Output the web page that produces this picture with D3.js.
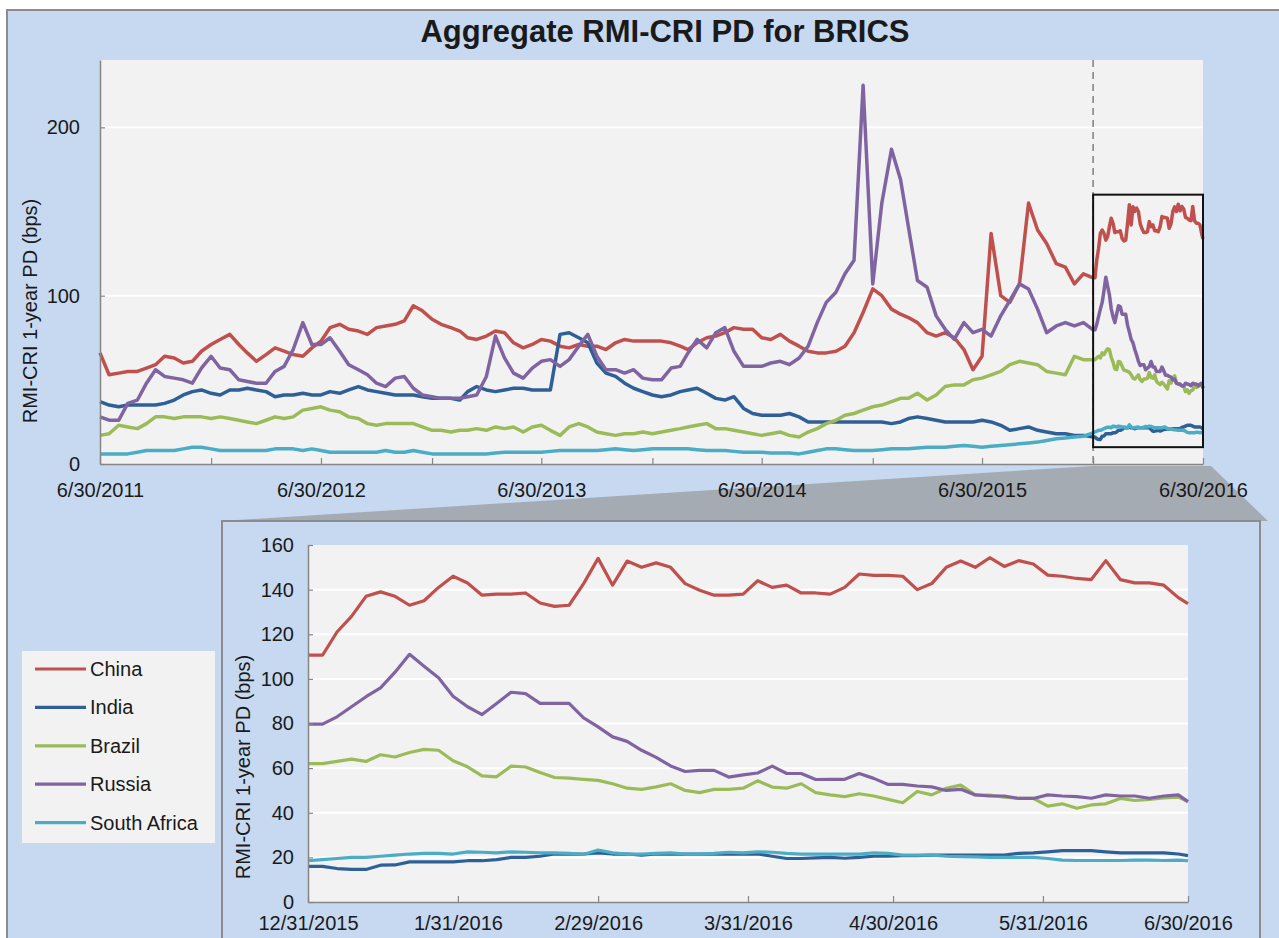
<!DOCTYPE html>
<html>
<head>
<meta charset="utf-8">
<script src="https://cdn.jsdelivr.net/npm/d3@7"></script>
<style>
  body { margin: 0; background: #fff; }
  text { font-family: "Liberation Sans", Arial, sans-serif; fill: #1a1a1a; }
</style>
</head>
<body>
<svg id="chart" width="1279" height="938"></svg>
<script>
// series names and colours (Excel palette)
const countries = ["China", "India", "Brazil", "Russia", "South Africa"];
const colors = ["#c0504d", "#2f5f97", "#9bbb59", "#8064a2", "#4bacc6"];

// top chart: twice a month (month end, then the 15th) from 6/30/2011 to 12/15/2015
const topChina = [
  66, 53, 54, 55, 55, 57, 59, 64, 63, 60,
  61, 67, 71, 74, 77, 71, 66, 61, 65, 69,
  67, 65, 64, 69, 73, 81, 83, 80, 79, 77,
  81, 82, 83, 85, 94, 91, 86, 83, 81, 79,
  75, 74, 76, 79, 78, 72, 69, 71, 74, 73,
  70, 69, 71, 70, 70, 68, 72, 74, 73, 73,
  73, 73, 72, 70, 68, 72, 75, 76, 78, 81,
  80, 80, 75, 74, 77, 73, 70, 67, 66, 66,
  67, 70, 78, 90, 104, 100, 92, 89, 87, 84,
  78, 76, 78, 75, 68, 56, 64, 137, 100, 96,
  107, 155, 139, 131, 119, 117, 107, 113
];
const topIndia = [
  37, 35, 34, 35, 35, 35, 35, 36, 38, 41,
  43, 44, 42, 41, 44, 44, 45, 44, 43, 40,
  41, 41, 42, 41, 41, 43, 42, 44, 46, 44,
  43, 42, 41, 41, 41, 40, 39, 39, 39, 38,
  43, 46, 44, 43, 44, 45, 45, 44, 44, 44,
  77, 78, 75, 72, 60, 54, 52, 48, 45, 43,
  41, 40, 41, 43, 44, 45, 42, 39, 38, 40,
  33, 30, 29, 29, 29, 30, 28, 25, 25, 25,
  25, 25, 25, 25, 25, 25, 24, 25, 27, 28,
  27, 26, 25, 25, 25, 25, 26, 25, 23, 20,
  21, 22, 20, 19, 18, 18, 17, 17
];
const topBrazil = [
  17, 18, 23, 22, 21, 24, 28, 28, 27, 28,
  28, 28, 27, 28, 27, 26, 25, 24, 26, 28,
  27, 28, 32, 33, 34, 32, 31, 28, 27, 24,
  23, 24, 24, 24, 24, 22, 20, 20, 19, 20,
  20, 21, 20, 22, 21, 22, 19, 22, 23, 20,
  17, 22, 24, 22, 19, 18, 17, 18, 18, 19,
  18, 19, 20, 21, 22, 23, 24, 21, 21, 20,
  19, 18, 17, 18, 19, 17, 16, 19, 21, 24,
  26, 29, 30, 32, 34, 35, 37, 39, 39, 42,
  38, 41, 46, 47, 47, 50, 51, 53, 55, 59,
  61, 60, 59, 55, 54, 53, 64, 62
];
const topRussia = [
  28, 26, 26, 36, 38, 48, 56, 52, 51, 50,
  48, 57, 64, 57, 56, 50, 49, 48, 48, 55,
  58, 68, 84, 71, 71, 75, 67, 59, 56, 53,
  48, 46, 51, 52, 45, 41, 40, 39, 39, 39,
  40, 41, 52, 76, 63, 54, 51, 57, 61, 62,
  58, 62, 70, 77, 64, 56, 56, 54, 56, 51,
  50, 50, 57, 58, 66, 74, 69, 78, 81, 67,
  58, 58, 58, 60, 61, 59, 63, 70, 84, 96,
  102, 113, 121, 225, 107, 155, 187, 169, 141, 109,
  105, 88, 80, 74, 84, 78, 80, 76, 88, 97,
  107, 104, 92, 78, 82, 84, 82, 84
];
const topSouthAfrica = [
  6, 6, 6, 6, 7, 8, 8, 8, 8, 9,
  10, 10, 9, 8, 8, 8, 8, 8, 8, 9,
  9, 9, 8, 9, 8, 7, 7, 7, 7, 7,
  7, 8, 7, 7, 8, 7, 6, 6, 6, 6,
  6, 6, 6, 6.5, 7, 7, 7, 7, 7, 7.5,
  8, 8, 8, 8, 8, 8.5, 9, 8.5, 8, 8.5,
  9, 9, 9, 9, 9, 8.5, 8, 8, 8, 7.5,
  7, 7, 7, 6.5, 6.5, 6.5, 6, 7, 8, 9,
  9, 8.5, 8, 8, 8, 8.5, 9, 9, 9, 9.5,
  10, 10, 10, 10.5, 11, 10.5, 10, 10.5, 11, 11.5,
  12, 12.5, 13, 14, 15, 15.5, 16, 16.5
];

// zoomed window: every 3 days from 12/31/2015, plus 6/30/2016
const zoomChina = [
  110.6, 110.6, 121, 128, 137, 139, 137, 133, 135, 141,
  146, 143, 137.5, 138, 138, 138.5, 134, 132.5, 133, 142.7,
  154, 142, 152.8, 150, 152, 150, 142.7, 139.7, 137.5, 137.5,
  138, 144, 141, 142, 138.5, 138.5, 138, 141, 147, 146.4,
  146.4, 146, 140, 142.7, 150, 152.8, 150, 154.3, 150.4, 153,
  151.5, 146.5, 146, 145, 144.5, 153, 144.5, 143, 143, 142,
  136.4, 133.7
];
const zoomIndia = [
  16, 16, 15, 14.6, 14.6, 16.5, 16.6, 18, 18, 18,
  18, 18.5, 18.5, 19, 20, 20, 20.5, 21.5, 21.5, 21.5,
  22, 21.5, 21.5, 21, 21.5, 21.5, 21.5, 21.5, 21.5, 21.5,
  21.5, 21.5, 20.5, 19.5, 19.5, 19.8, 20, 19.6, 20, 20.5,
  20.6, 20.8, 20.8, 21, 21, 21, 21, 21, 21, 21.8,
  22, 22.5, 23, 23, 23, 22.5, 22, 22, 22, 22,
  21.5, 20.8
];
const zoomBrazil = [
  62, 62, 63, 64, 63, 66, 65, 67, 68.4, 68,
  63.3, 60.6, 56.5, 56.1, 60.9, 60.5, 58, 55.8, 55.5, 55,
  54.5, 53, 51, 50.5, 51.6, 53, 50, 49, 50.5, 50.5,
  51, 54.3, 51.5, 51, 53, 49, 48, 47.2, 48.5, 47.5,
  46, 44.5, 49.5, 48, 51, 52.4, 48, 47.9, 47, 46.5,
  46.5, 43, 44, 42, 43.5, 44, 46.4, 45.5, 46, 46.7,
  47, 45
];
const zoomRussia = [
  79.7, 79.7, 83, 87.5, 92, 96, 103, 111, 105.7, 100.5,
  92.2, 87.5, 84, 89, 94, 93.4, 89, 89, 89, 82.5,
  78.5, 74, 72, 68, 64.8, 61, 58.5, 59, 59, 56,
  57, 57.8, 60.9, 57.6, 57.6, 54.9, 55, 55, 57.6, 55.4,
  52.7, 52.7, 52, 51.6, 50, 50.5, 48, 47.5, 47.5, 46.4,
  46.4, 48, 47.5, 47.2, 46.5, 48, 47.5, 47.5, 46.5, 47.5,
  48, 45
];
const zoomSouthAfrica = [
  18.5, 19, 19.5, 20, 20, 20.5, 21, 21.5, 21.8, 21.8,
  21.5, 22.5, 22.3, 22, 22.5, 22.3, 22, 22, 21.8, 21.3,
  23.3, 22, 21.5, 21.5, 21.8, 22, 21.5, 21.5, 21.8, 22.3,
  22, 22.5, 22.3, 21.8, 21.5, 21.5, 21.5, 21.5, 21.5, 22,
  21.8, 21, 21, 21, 20.5, 20.3, 20.2, 20, 20, 20,
  20, 19.5, 18.8, 18.6, 18.6, 18.6, 18.6, 18.8, 18.8, 18.6,
  18.8, 18.5
];
const zoomDays = d3.range(0, 181, 3).concat([182]);

// ticks
const topXTicks = ["6/30/2011", "12/31/2011", "6/30/2012", "12/31/2012", "6/30/2013", "12/31/2013",
  "6/30/2014", "12/31/2014", "6/30/2015", "12/31/2015", "6/30/2016"];
const topYTicks = [0, 100, 200];
const zoomXTicks = ["12/31/2015", "1/31/2016", "2/29/2016", "3/31/2016", "4/30/2016", "5/31/2016", "6/30/2016"];
const zoomYTicks = [0, 20, 40, 60, 80, 100, 120, 140, 160];

const title = "Aggregate RMI-CRI PD for BRICS";
const yTitle = "RMI-CRI  1-year PD (bps)";

const parse = d3.timeParse("%m/%d/%Y");
const fmt = d3.timeFormat("%-m/%-d/%Y");

const topDates = d3.range(topChina.length).map((i) =>
  i % 2 ? new Date(2011, 6 + (i - 1) / 2, 15) : new Date(2011, 6 + i / 2, 0));
const zoomStart = parse(zoomXTicks[0]);
const zoomEnd = parse(zoomXTicks[zoomXTicks.length - 1]);
const zoomDates = zoomDays.map((d) => d3.timeDay.offset(zoomStart, d));

const topValues = [topChina, topIndia, topBrazil, topRussia, topSouthAfrica];
const zoomValues = [zoomChina, zoomIndia, zoomBrazil, zoomRussia, zoomSouthAfrica];

const zoomSeries = zoomValues.map((vals) => zoomDates.map((d, j) => ({ date: d, value: vals[j] })));
// the full chart continues into the zoomed window with the same data
const topSeries = topValues.map((vals, i) =>
  topDates.map((d, j) => ({ date: d, value: vals[j] })).concat(zoomSeries[i]));

const svg = d3.select("#chart");
const blue = "#c6d9f1";
const axisGray = "#868686";

// outer panel + title
svg.append("rect")
  .attr("x", 7).attr("y", 10).attr("width", 1300).attr("height", 960)
  .attr("fill", blue).attr("stroke", "#8c8c8c").attr("stroke-width", 2);

svg.append("text")
  .attr("x", 665).attr("y", 42)
  .attr("text-anchor", "middle")
  .attr("font-size", 31).attr("font-weight", "bold")
  .text(title);

function styleAxis(g, size) {
  g.attr("font-size", size).attr("font-family", "Liberation Sans, Arial, sans-serif");
  g.select(".domain").attr("stroke", axisGray).attr("stroke-width", 1.5);
  g.selectAll(".tick line").attr("stroke", axisGray).attr("stroke-width", 1.2);
  g.selectAll(".tick text").attr("fill", "#1a1a1a");
}

// ---------- main (full period) chart ----------
const main = { left: 100, right: 1203, top: 60, bottom: 464 };
const xMain = d3.scaleTime().domain([parse(topXTicks[0]), zoomEnd]).range([main.left, main.right]);
const yMain = d3.scaleLinear().domain([0, 240]).range([main.bottom, main.top]);

svg.append("rect")
  .attr("x", main.left).attr("y", main.top)
  .attr("width", main.right - main.left).attr("height", main.bottom - main.top)
  .attr("fill", "#f2f2f2");

svg.append("g").selectAll("line")
  .data(topYTicks.filter((d) => d > 0))
  .join("line")
  .attr("x1", main.left).attr("x2", main.right)
  .attr("y1", (d) => yMain(d)).attr("y2", (d) => yMain(d))
  .attr("stroke", "#fff").attr("stroke-width", 2);

const lineMain = d3.line().x((d) => xMain(d.date)).y((d) => yMain(d.value));
svg.append("g").selectAll("path")
  .data(topSeries)
  .join("path")
  .attr("d", lineMain)
  .attr("fill", "none")
  .attr("stroke", (d, i) => colors[i])
  .attr("stroke-width", 3.5)
  .attr("stroke-linejoin", "round");

// dashed marker at start of zoom window
svg.append("line")
  .attr("x1", xMain(zoomStart)).attr("x2", xMain(zoomStart))
  .attr("y1", main.top).attr("y2", main.bottom)
  .attr("stroke", "#7f7f7f").attr("stroke-width", 1.5)
  .attr("stroke-dasharray", "7,5");

// zoom window box
svg.append("rect")
  .attr("x", xMain(zoomStart)).attr("y", yMain(160))
  .attr("width", xMain(zoomEnd) - xMain(zoomStart))
  .attr("height", yMain(10) - yMain(160))
  .attr("fill", "none").attr("stroke", "#111").attr("stroke-width", 2);

// connector to the inset
const panel = { left: 222, right: 1260, top: 521 };
svg.append("polygon")
  .attr("points", [
    [xMain(zoomStart), main.bottom + 2],
    [xMain(zoomEnd) + 8, main.bottom + 2],
    [panel.right + 8, panel.top],
    [panel.left, panel.top]
  ].join(" "))
  .attr("fill", "#a5abb3");

svg.append("g")
  .attr("transform", `translate(0,${main.bottom})`)
  .call(d3.axisBottom(xMain)
    .tickValues(topXTicks.map(parse))
    .tickSize(-6).tickSizeOuter(0).tickPadding(19)
    .tickFormat((d) => (d.getMonth() === 5 ? fmt(d) : "")))
  .call((g) => styleAxis(g, 20));

svg.append("g")
  .attr("transform", `translate(${main.left},0)`)
  .call(d3.axisLeft(yMain).tickValues(topYTicks).tickSize(-5).tickSizeOuter(0).tickPadding(20))
  .call((g) => styleAxis(g, 20));

svg.append("text")
  .attr("transform", "translate(37,311) rotate(-90)")
  .attr("text-anchor", "middle")
  .attr("font-size", 20)
  .text(yTitle);

// ---------- inset chart ----------
svg.append("rect")
  .attr("x", panel.left).attr("y", panel.top)
  .attr("width", panel.right - panel.left).attr("height", 500)
  .attr("fill", blue).attr("stroke", "#8c8c8c").attr("stroke-width", 2);

const ins = { left: 308, right: 1188, top: 545, bottom: 902 };
const xIn = d3.scaleTime().domain([zoomStart, zoomEnd]).range([ins.left, ins.right]);
const yIn = d3.scaleLinear().domain([0, 160]).range([ins.bottom, ins.top]);

svg.append("rect")
  .attr("x", ins.left).attr("y", ins.top)
  .attr("width", ins.right - ins.left).attr("height", ins.bottom - ins.top)
  .attr("fill", "#f2f2f2");

svg.append("g").selectAll("line")
  .data(zoomYTicks.filter((d) => d > 0 && d < 160))
  .join("line")
  .attr("x1", ins.left).attr("x2", ins.right)
  .attr("y1", (d) => yIn(d)).attr("y2", (d) => yIn(d))
  .attr("stroke", "#fff").attr("stroke-width", 2);

const lineIn = d3.line().x((d) => xIn(d.date)).y((d) => yIn(d.value));
svg.append("g").selectAll("path")
  .data(zoomSeries)
  .join("path")
  .attr("d", lineIn)
  .attr("fill", "none")
  .attr("stroke", (d, i) => colors[i])
  .attr("stroke-width", 3.2)
  .attr("stroke-linejoin", "round");

svg.append("g")
  .attr("transform", `translate(0,${ins.bottom})`)
  .call(d3.axisBottom(xIn)
    .tickValues(zoomXTicks.map(parse))
    .tickSize(-6).tickSizeOuter(0).tickPadding(14)
    .tickFormat(fmt))
  .call((g) => styleAxis(g, 20));

svg.append("g")
  .attr("transform", `translate(${ins.left},0)`)
  .call(d3.axisLeft(yIn).tickValues(zoomYTicks).tickSize(-5).tickSizeOuter(0).tickPadding(14))
  .call((g) => styleAxis(g, 20));

svg.append("text")
  .attr("transform", "translate(250,767) rotate(-90)")
  .attr("text-anchor", "middle")
  .attr("font-size", 20)
  .text(yTitle);

// ---------- legend ----------
const legend = svg.append("g");
legend.append("rect")
  .attr("x", 22).attr("y", 651).attr("width", 193).attr("height", 192)
  .attr("fill", "#f2f2f2");

const item = legend.selectAll("g.item")
  .data(countries)
  .join("g")
  .attr("class", "item")
  .attr("transform", (d, i) => `translate(0,${669 + i * 38.4})`);

item.append("line")
  .attr("x1", 35).attr("x2", 86)
  .attr("stroke", (d, i) => colors[i])
  .attr("stroke-width", 3.2);

item.append("text")
  .attr("x", 90).attr("dy", "0.35em")
  .attr("font-size", 20)
  .text((d) => d);
</script>
</body>
</html>
